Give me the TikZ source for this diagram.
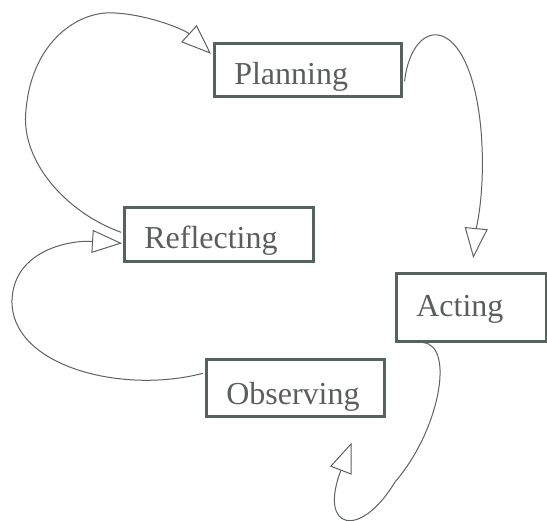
\documentclass[tikz,border=0pt]{standalone}
\usepackage{fontspec}
\setmainfont{Liberation Serif}
\usepackage{xcolor}
\usetikzlibrary{arrows.meta,positioning}

\definecolor{boxgray}{HTML}{56625C}
\definecolor{textgray}{HTML}{5A5E5C}
\definecolor{linegray}{HTML}{5E6260}

\begin{document}
\begin{tikzpicture}[
    x=1pt, y=-1pt,
    stage/.style={draw=boxgray, line width=2.6pt, anchor=north west, inner ysep=0pt,
      inner xsep=20pt, align=left, text=textgray, font=\fontsize{32}{38}\selectfont},
    flow/.style={draw=linegray, line width=1pt,
      -{Triangle[open, length=30pt, width=23pt, line width=1pt]}}
  ]
    % Page
    \fill[white] (0,0) rectangle (547,521);
    \useasboundingbox (0,0) rectangle (547,521);

    % Stages of the cycle
    \node[stage, text width=147pt, text height=41pt, text depth=12pt] (plan) at (213,42) {Planning};
    \node[stage, text width=149pt, text height=41pt, text depth=13pt] (refl) at (123,206) {Reflecting};
    \node[stage, text width=110pt, text height=43pt, text depth=25pt] (act) at (395,272) {Acting};
    \node[stage, text width=138pt, text height=45pt, text depth=12pt] (obs) at (205,358) {Observing};

    % Planning to acting
    \draw[flow] ([xshift=2pt,yshift=-11.5pt]plan.east)
      .. controls (412,15) and (470,10) .. (481,130)
      .. controls (486,190) and (476,230) .. ([xshift=2pt,yshift=14pt]act.north);

    % Acting to observing
    \draw[flow] ([xshift=28pt]act.south west)
      .. controls (455,345) and (440,430) .. (395,482)
      .. controls (360,540) and (318,530) .. ([xshift=-34pt,yshift=-25pt]obs.south east);

    % Observing to reflecting
    \draw[flow] ([xshift=-2pt,yshift=14.5pt]obs.west)
      .. controls (120,395) and (10,365) .. (12,300)
      .. controls (14,250) and (70,240) .. ([xshift=-1pt,yshift=-9pt]refl.west);

    % Reflecting to planning
    \draw[flow] ([xshift=-2pt,yshift=2pt]refl.west)
      .. controls (65,212) and (20,160) .. (26,110)
      .. controls (32,40) and (80,10) .. (115,13)
      .. controls (150,15) and (185,30) .. ([xshift=-2pt,yshift=16pt]plan.west);
  \end{tikzpicture}
\end{document}
